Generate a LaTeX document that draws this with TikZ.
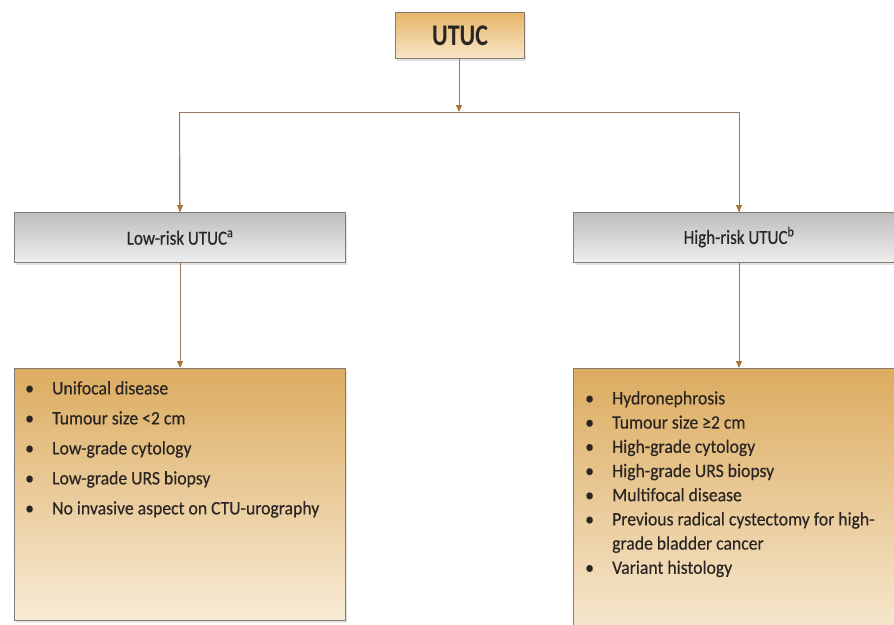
\documentclass[tikz,border=0pt]{standalone}
\usepackage{fontspec}
\setmainfont{Carlito}
\newfontfamily\condfont[FakeStretch=0.93,FakeBold=0.3]{Carlito}
\newfontfamily\headfont[FakeStretch=0.85,FakeBold=0.4]{Carlito}
\newfontfamily\topfont[FakeStretch=0.8]{Carlito}
\usetikzlibrary{arrows.meta,shadows}
\definecolor{edgecol}{HTML}{877A70}
\definecolor{conn}{HTML}{9A7566}
\definecolor{tipcol}{HTML}{A8723C}
\definecolor{tanTop}{HTML}{DCAC60}
\definecolor{tanBot}{HTML}{F8EBD6}
\definecolor{utTop}{HTML}{E6B668}
\definecolor{utBot}{HTML}{F7E6C8}
\definecolor{grayTop}{HTML}{BEBEBE}
\definecolor{grayBot}{HTML}{EEEEEE}
\definecolor{txt}{HTML}{2A2522}
\begin{document}
\begin{tikzpicture}[x=1pt,y=-1pt,
  boxbase/.style={draw=edgecol, line width=1.1pt, inner sep=0pt, anchor=north west,
    drop shadow={opacity=0.22, shadow xshift=1pt, shadow yshift=-2pt}},
  tanbox/.style={boxbase, top color=tanTop, bottom color=tanBot},
  utbox/.style={boxbase, top color=utTop, bottom color=utBot},
  graybox/.style={boxbase, top color=grayTop, bottom color=grayBot},
  conline/.style={draw=conn, line width=1pt},
  arr/.style={conline, -{Triangle[length=7pt,width=6pt,fill=tipcol,color=tipcol]}},
  listtext/.style={anchor=north west, align=left, inner sep=0pt, text=txt,
    font=\condfont\fontsize{19}{30}\selectfont},
]
\useasboundingbox (0,0) rectangle (894,624);
\clip (0,0) rectangle (894,624);
\fill[white] (0,0) rectangle (894,624);

% boxes
\node[utbox, minimum width=129pt, minimum height=46pt] (utuc) at (395,12) {};
\node[text=txt, font=\topfont\bfseries\fontsize{30}{30}\selectfont] at (utuc.center) {UTUC};

\node[graybox, minimum width=331pt, minimum height=50pt] (low) at (14,212) {};
\node[text=txt, font=\headfont\fontsize{20}{20}\selectfont] at (low.center) {Low-risk UTUC\textsuperscript{a}};

\node[graybox, minimum width=332pt, minimum height=50pt] (high) at (573,212) {};
\node[text=txt, font=\headfont\fontsize{20}{20}\selectfont] at (739,237) {High-risk UTUC\textsuperscript{b}};

\node[tanbox, minimum width=331pt, minimum height=252pt] (lowlist) at (14,368) {};
\node[tanbox, minimum width=332pt, minimum height=280pt] (highlist) at (573,368) {};

% list texts
\node[listtext] at (25,381) {%
\makebox[27pt][l]{•}Unifocal disease\\
\makebox[27pt][l]{•}Tumour size <2 cm\\
\makebox[27pt][l]{•}Low-grade cytology\\
\makebox[27pt][l]{•}Low-grade URS biopsy\\
\makebox[27pt][l]{•}No invasive aspect on CTU-urography};

\node[listtext, font=\condfont\fontsize{19}{24.2}\selectfont] at (585,391) {%
\makebox[27pt][l]{•}Hydronephrosis\\
\makebox[27pt][l]{•}Tumour size ≥2 cm\\
\makebox[27pt][l]{•}High-grade cytology\\
\makebox[27pt][l]{•}High-grade URS biopsy\\
\makebox[27pt][l]{•}Multifocal disease\\
\makebox[27pt][l]{•}Previous radical cystectomy for high-\\
\hspace*{27pt}grade bladder cancer\\
\makebox[27pt][l]{•}Variant histology};

% connectors
\coordinate (junc) at (459,112);
\coordinate (lowtop) at (179.5,212);
\coordinate (hightop) at (739,212);
\draw[arr] (utuc.south -| junc) -- (junc);
\draw[conline] (junc) -| (lowtop);
\draw[conline] (junc) -| (hightop);
\draw[arr] (lowtop |- junc) -- (low.north);
\draw[arr] (hightop |- junc) -- (hightop);
\draw[arr] (low.south) -- (lowlist.north);
\draw[arr] (high.south -| hightop) -- (highlist.north -| hightop);
\end{tikzpicture}
\end{document}
